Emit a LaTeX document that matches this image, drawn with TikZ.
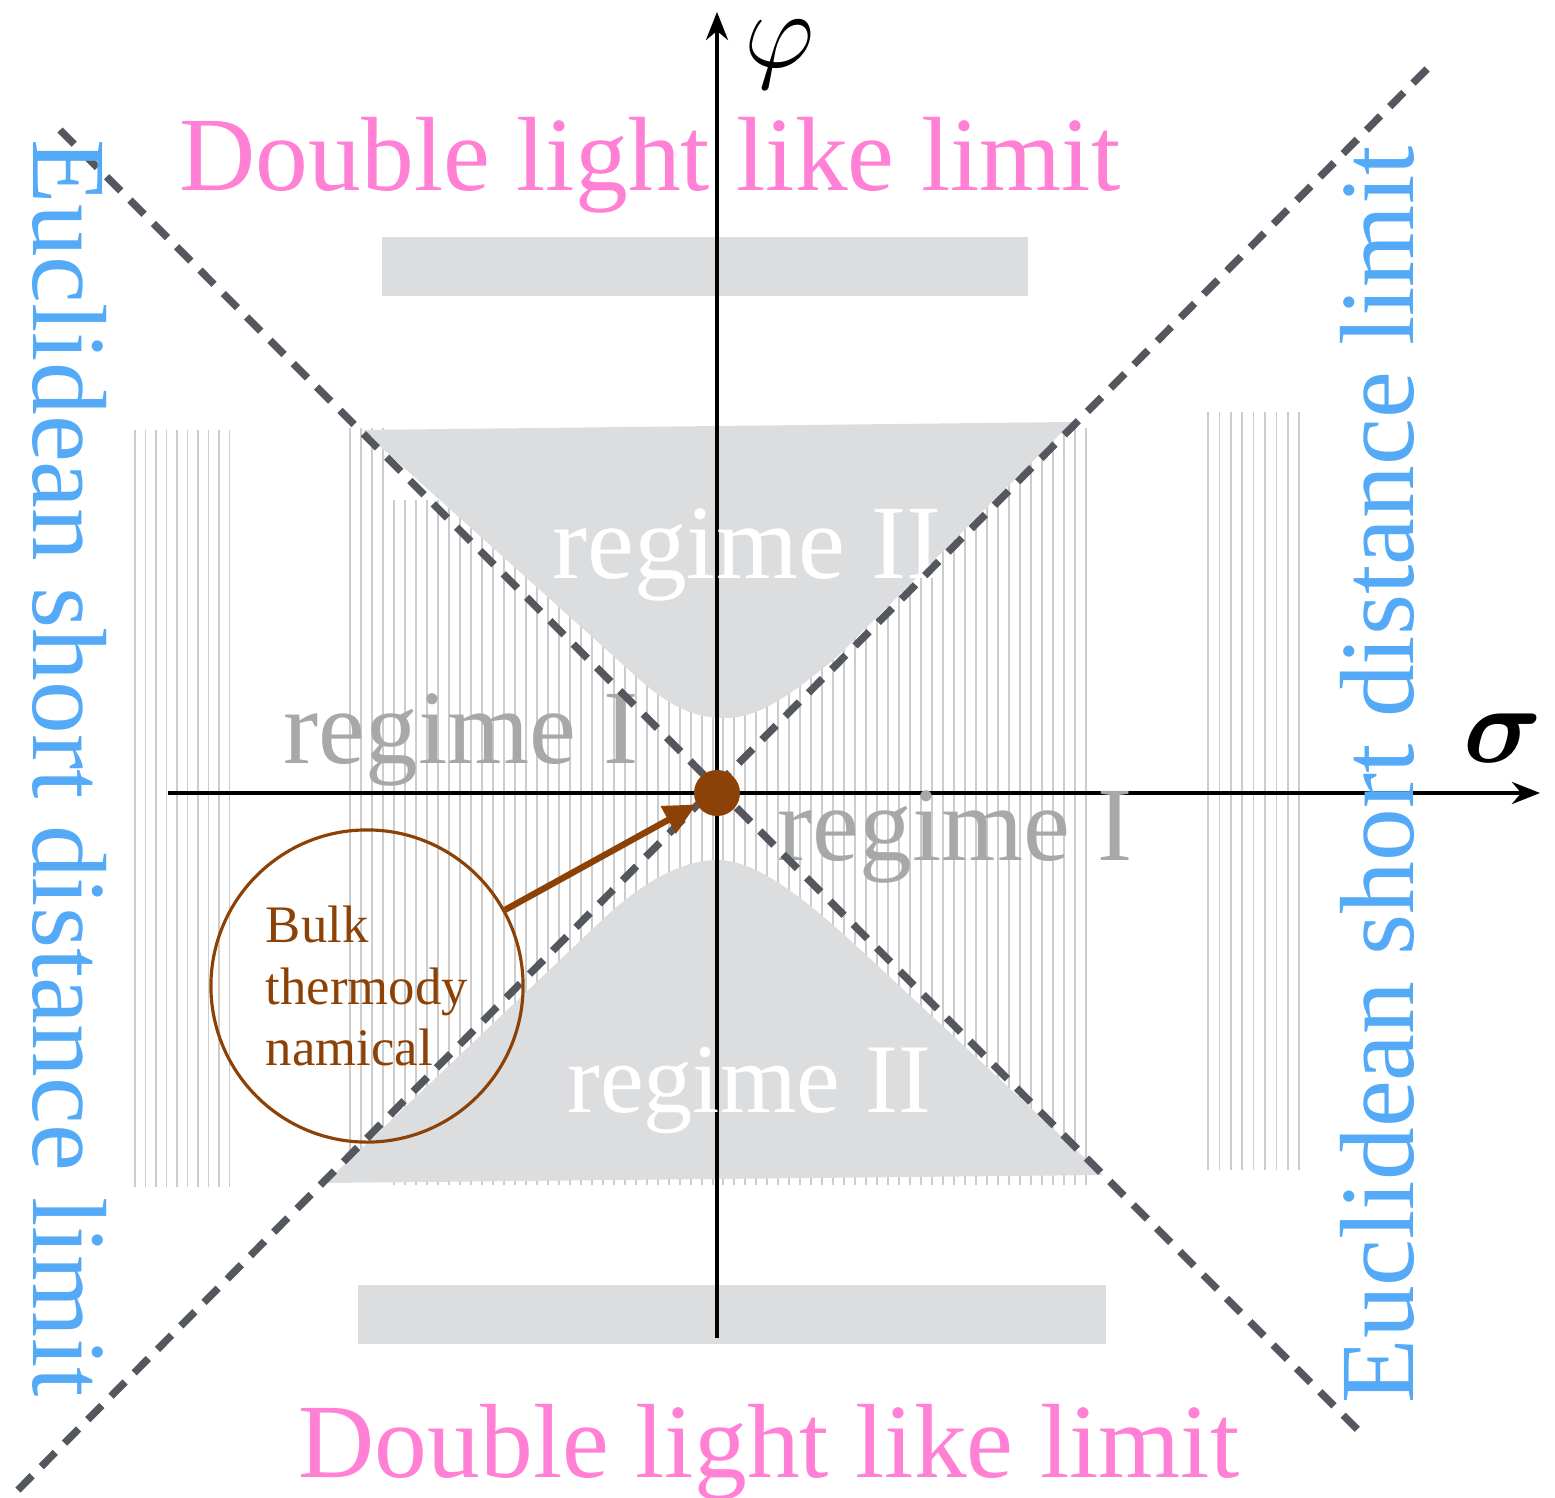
\documentclass[tikz,border=0pt]{standalone}
\usepackage{amsmath}
\usepackage{fontspec}
\setmainfont{Liberation Serif}
\usetikzlibrary{
  arrows.meta,  % Stealth / Triangle 箭头
  positioning   % 节点相对定位
}

\definecolor{conegray}{RGB}{84,88,94}
\definecolor{shadegray}{RGB}{220,221,223}
\definecolor{hatchgray}{RGB}{204,204,204}
\definecolor{limitpink}{RGB}{255,128,212}
\definecolor{limitblue}{RGB}{85,170,248}
\definecolor{regimegray}{RGB}{166,169,168}
\definecolor{bulkbrown}{RGB}{140,66,6}

\newcommand{\bigfont}{\fontsize{30}{36}\selectfont}
\newcommand{\axislabel}[1]{\scalebox{1.5}{$#1$}}

\begin{document}
\begin{tikzpicture}[>=Stealth, x=0.01cm, y=-0.01cm, % 以像素为单位，y 轴向下
  hatch/.style={hatchgray, line width=0.45pt},
  shade/.style={fill=shadegray, draw=none},
  cone/.style={conegray, line width=2.1pt, dash pattern=on 0.2cm off 0.13cm},
  axis/.style={black, line width=1.2pt, -{Stealth[length=0.28cm,width=0.22cm]}},
  limit/.style={font=\bigfont, inner sep=0pt, anchor=base},
  regime/.style={font=\bigfont, inner sep=0pt, anchor=base}]

  \useasboundingbox (0,0) rectangle (1555,1497);

  % =============== 竖直细线阴影 ===============
  \foreach \x in {135,145.5,...,231} \draw[hatch] (\x,430) -- (\x,1187);
  \foreach \x in {350,361,...,390} \draw[hatch] (\x,428) -- (\x,1155);
  \foreach \x in {394,405,...,717} \draw[hatch] (\x,500) -- (\x,1185);
  \foreach \x in {723,734,...,1086} \draw[hatch] (\x,428) -- (\x,1185);
  \foreach \x in {1208,1219.4,...,1300} \draw[hatch] (\x,412) -- (\x,1170);

  % =============== 灰色区域 ===============
  \fill[shade] (382,237) rectangle (1028,296);
  \fill[shade] (358,1285) rectangle (1106,1344);
  % 上方 regime II
  \fill[shade] (362,430) -- (640,680) .. controls (675,711) and (700,718) .. (725,718)
    .. controls (760,718) and (790,695) .. (837,657) -- (1072,422) -- cycle;
  % 下方 regime II
  \fill[shade] (325,1183) -- (600,922) .. controls (650,874) and (690,860) .. (717,860)
    .. controls (755,860) and (800,895) .. (850,940) -- (1103,1175) -- cycle;

  % =============== 坐标轴 ===============
  \draw[axis] (168,793) -- (1540,793);
  \draw[axis] (717,1338) -- (717,12);
  \node[font=\huge] (phi) at (780,55) {\axislabel{\varphi}};
  \node[font=\huge] (sigma) at (1503,738) {\axislabel{\boldsymbol{\sigma}}};

  % =============== 区域文字 ===============
  \node[regime, text=white] (rIIup) at (747,578) {regime II};
  \node[regime, text=white, font=\fontsize{28}{34}\selectfont] (rIIdown) at (749,1112) {regime II};
  \node[regime, text=regimegray] (rIleft) at (461,763) {regime I};
  \node[regime, text=regimegray] (rIright) at (955,860) {regime I};

  % =============== 光锥虚线 ===============
  \draw[cone] (60,130) -- (1360,1432);
  \draw[cone] (18,1490) -- (1428,68);

  % =============== 极限文字 ===============
  \node[limit, text=limitpink] (dltop) at (650,190) {Double light like limit};
  \node[limit, text=limitpink] (dlbottom) at (769,1477) {Double light like limit};
  \node[limit, text=limitblue, rotate=-90] (esleft) at (33,768) {Euclidean short distance limit};
  \node[limit, text=limitblue, rotate=90] (esright) at (1413,775) {Euclidean short distance limit};

  % =============== 原点与 Bulk 圆 ===============
  \node[circle, fill=bulkbrown, minimum size=0.46cm, inner sep=0pt] (origin) at (717,793) {};
  \node[circle, draw=bulkbrown, line width=0.9pt, minimum size=3.12cm, inner sep=0pt,
        align=left, text=bulkbrown, font=\fontsize{15}{17.5}\selectfont] (bulk) at (367,986)
        {Bulk\\thermody\\namical};
  \draw[bulkbrown, line width=1.8pt, -{Triangle[length=0.32cm,width=0.3cm]}] (bulk) -- (origin);

\end{tikzpicture}
\end{document}
